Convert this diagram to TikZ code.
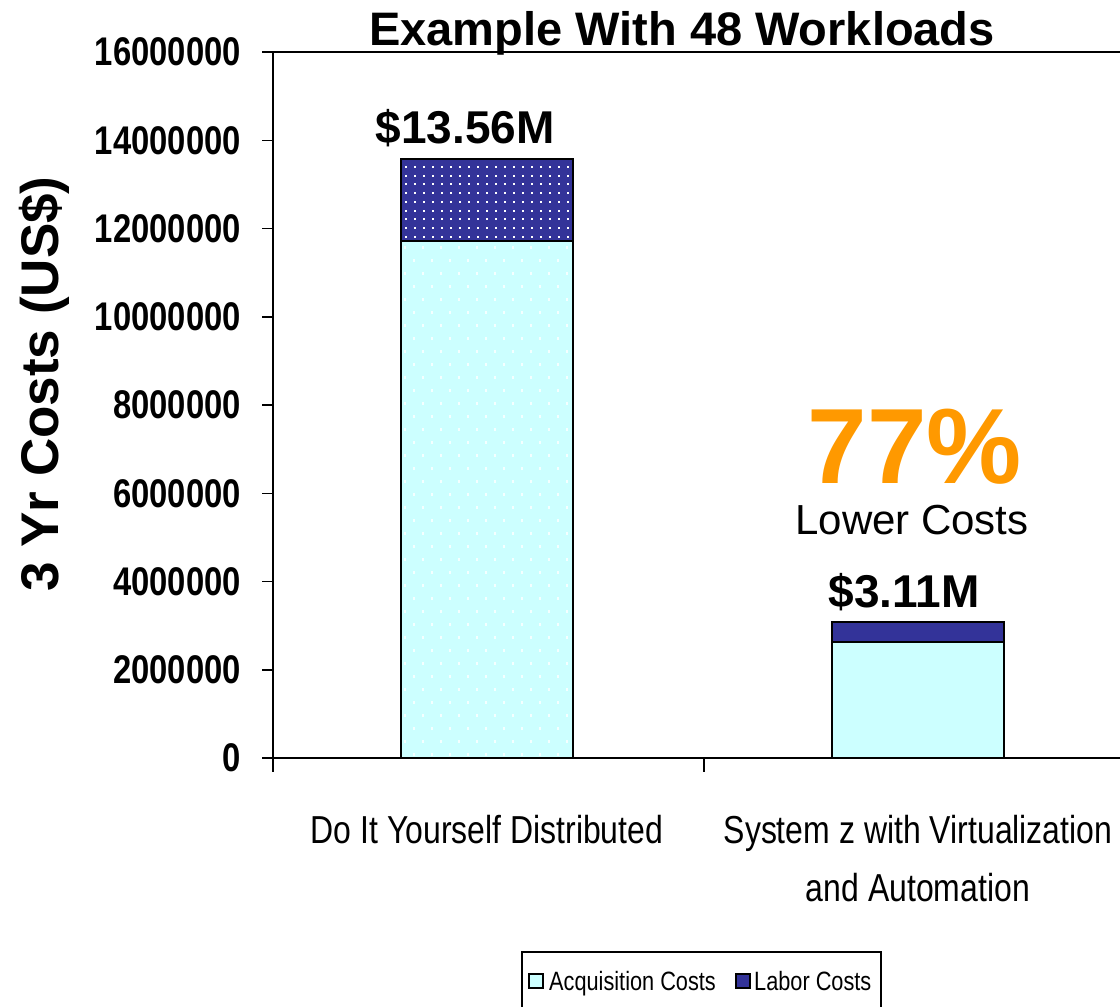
\documentclass[tikz,border=0pt]{standalone}
\usepackage{fontspec}
\setmainfont{Liberation Sans}
\newfontfamily\narrowfont[FakeStretch=0.82]{Liberation Sans}
\definecolor{laborblue}{HTML}{333399}
\definecolor{acqcyan}{HTML}{CCFFFF}
\definecolor{lowerorange}{HTML}{FF9900}

\begin{document}
\begin{tikzpicture}[x=1pt,y=-1pt,
    ticklabel/.style={anchor=east,inner sep=0pt,font=\narrowfont\bfseries\fontsize{40}{44}\selectfont},
    catlabel/.style={anchor=base,inner sep=0pt,font=\narrowfont\fontsize{39}{43}\selectfont},
    valuelabel/.style={anchor=base,inner sep=0pt,font=\bfseries\fontsize{46}{50}\selectfont},
    legendtext/.style={anchor=base west,inner sep=0pt,font=\narrowfont\fontsize{26.5}{28}\selectfont},
    bar/.style={draw=black,line width=1.8pt}]
  \useasboundingbox (0,0) rectangle (1120,1007);

  % bars, acquisition part with faint dots
  \fill[acqcyan] (401,758) rectangle (573,241);
  \begin{scope}
    \clip (401,241) rectangle (573,758);
    \foreach \j in {0,...,40} {
      \pgfmathsetmacro\off{mod(\j,2)*9}
      \foreach \i in {0,...,9}
        \fill[white,opacity=0.8] (404+\off+18*\i,246+13*\j) rectangle ++(2,3);
    }
  \end{scope}
  \draw[bar] (401,758) rectangle (573,241);
  \fill[laborblue] (401,241) rectangle (573,159);
  \begin{scope}
    \clip (401,159) rectangle (573,241);
    \foreach \j in {0,...,9}
      \foreach \i in {0,...,19}
        \fill[white] (405+9*\i,166+8.7*\j) rectangle ++(2,2);
  \end{scope}
  \draw[bar] (401,241) rectangle (573,159);
  \draw[bar,fill=acqcyan] (832,758) rectangle (1004,642);
  \draw[bar,fill=laborblue] (832,642) rectangle (1004,622);

  % axes
  \draw[line width=2pt] (262,52) -- (1120,52);
  \draw[line width=2pt] (273,52) -- (273,772);
  \draw[line width=2.4pt] (262,758) -- (1120,758);
  \draw[line width=1.5pt] (704,758) -- (704,772);
  \foreach \k/\lab in {0/0,1/2000000,2/4000000,3/6000000,4/8000000,
      5/10000000,6/12000000,7/14000000,8/16000000} {
    \draw[line width=1.5pt] (262,758-88.25*\k) -- (273,758-88.25*\k);
    \node[ticklabel] (tick\k) at (241,758-88.25*\k) {\lab};
  }

  % texts
  \node[anchor=base,inner sep=0pt,font=\bfseries\fontsize{47}{50}\selectfont] (title) at (682,45) {Example With 48 Workloads};
  \node[rotate=90,inner sep=0pt,font=\bfseries\fontsize{53}{56}\selectfont] (ytitle) at (44,384) {3 Yr Costs (US\$)};
  \node[valuelabel] (diytotal) at (465,143) {\$13.56M};
  \node[valuelabel] (sysztotal) at (904,607) {\$3.11M};
  \node[anchor=base,inner sep=0pt,text=lowerorange,font=\bfseries\fontsize{107}{110}\selectfont] (saving) at (915,483) {77\%};
  \node[anchor=base,inner sep=0pt,font=\fontsize{42}{46}\selectfont] (savingtext) at (912,534) {Lower Costs};
  \node[catlabel] (diy) at (487,843) {Do It Yourself Distributed};
  \node[catlabel] (sysz) at (918,843) {System z with Virtualization};
  \node[catlabel] (syszb) at (918,901) {and Automation};

  % legend
  \draw[line width=1.2pt] (522,1030) -- (522,952) -- (881,952) -- (881,1030);
  \draw[line width=1.2pt,fill=acqcyan] (529,974) rectangle (543,988);
  \node[legendtext] (acqkey) at (549,990) {Acquisition Costs};
  \draw[line width=1.2pt,fill=laborblue] (736,974) rectangle (750,988);
  \node[legendtext] (laborkey) at (754,990) {Labor Costs};
\end{tikzpicture}
\end{document}
